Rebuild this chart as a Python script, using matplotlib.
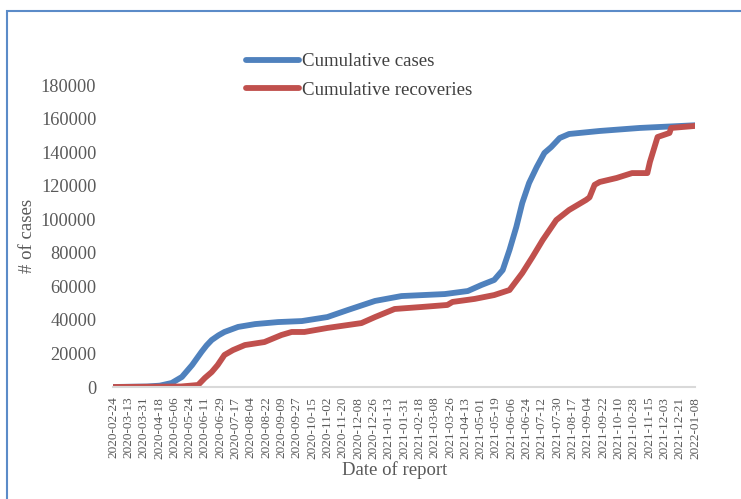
import numpy as np
import pandas as pd
import matplotlib
matplotlib.use("Agg")
from matplotlib import pyplot as plt
from matplotlib.patches import Rectangle

plt.rcParams['font.family'] = ['Liberation Serif', 'DejaVu Serif']

start = pd.Timestamp('2020-02-24')
end = pd.Timestamp('2022-01-08')

# days since 2020-02-24
cases_day = [0, 40, 55, 69, 81, 93, 104, 110, 116, 124, 131, 147, 167, 194, 222, 252, 276,
             308, 339, 390, 417, 433, 448, 458, 466, 474, 481, 489, 498, 507, 515, 525,
             536, 572, 619, 684]
cases = [0, 300, 800, 2400, 6000, 13100, 20900, 24800, 28000, 30800, 32800, 35800, 37500,
         38700, 39300, 41700, 45900, 51300, 54200, 55400, 57200, 60800, 63800, 69700,
         81700, 95400, 109700, 121600, 131100, 139500, 143000, 148400, 150800, 152600,
         154400, 156000]

recov_day = [0, 80, 100, 108, 116, 123, 131, 141, 155, 178, 198, 210, 225, 252, 292, 308,
             331, 363, 393, 399, 425, 448, 466, 481, 493, 505, 521, 536, 556, 560, 566,
             572, 592, 610, 628, 631, 640, 654, 656, 684]
recov = [0, 300, 1200, 5400, 8900, 13100, 19100, 22000, 25000, 26800, 31000, 32800,
         32800, 35200, 38100, 41700, 46500, 47700, 48900, 50700, 52500, 54800, 57800,
         67900, 77500, 87600, 99500, 105500, 111500, 113000, 120500, 122200, 124600,
         127500, 127500, 134100, 149000, 151400, 154400, 155600]

series_names = ['Cumulative cases', 'Cumulative recoveries']
y_ticks = np.arange(0, 180001, 20000)

cases_dates = start + pd.to_timedelta(cases_day, unit='D')
recov_dates = start + pd.to_timedelta(recov_day, unit='D')
tick_dates = pd.date_range(start, end, freq='18D')

fig = plt.figure(figsize=(7.41, 4.99), dpi=100)
W, H = 741, 499
ax = fig.add_axes([113 / W, 1 - 387 / H, (695 - 113) / W, (387 - 85) / H])

ax.plot(cases_dates, cases, color='#4F81BD', lw=4.2, solid_capstyle='round',
        solid_joinstyle='round', label=series_names[0])
ax.plot(recov_dates, recov, color='#C0504D', lw=4.2, solid_capstyle='round',
        solid_joinstyle='round', label=series_names[1])

ax.set_xlim(start, end)
ax.set_ylim(0, 180000)
ax.set_yticks(y_ticks)
ax.set_yticklabels([str(v) for v in y_ticks])
ax.set_xticks(tick_dates)
ax.set_xticklabels([d.strftime('%Y-%m-%d') for d in tick_dates], rotation=90)
ax.tick_params(axis='y', length=0, pad=12, labelsize=13.2, labelcolor='#595959')
ax.tick_params(axis='x', length=0, pad=7, labelsize=9.5, labelcolor='#595959')

for s in ['top', 'right', 'left']:
    ax.spines[s].set_visible(False)
ax.spines['bottom'].set_color('#D9D9D9')
ax.spines['bottom'].set_linewidth(1.5)

ax.set_xlabel('Date of report', fontsize=13.5, color='#595959')
ax.xaxis.set_label_coords(0.484, -0.245)
ax.set_ylabel('# of cases', fontsize=13.5, color='#595959')
ax.yaxis.set_label_coords(-0.132, 0.5)

fig.legend(loc='upper left', bbox_to_anchor=(246 / W, 1 - 53 / H), frameon=False,
           fontsize=13.6, handlelength=2.8, handletextpad=0.15, labelspacing=0.6,
           borderpad=0, borderaxespad=0, labelcolor='#404040')

# outer chart border (cut off at right and bottom)
fig.patches.append(Rectangle((7 / W, -0.1), 1.2, 1.1 - 11 / H, transform=fig.transFigure,
                             fill=False, edgecolor='#5B8BC8', lw=1.5))

fig.savefig('out.png', dpi=100)
